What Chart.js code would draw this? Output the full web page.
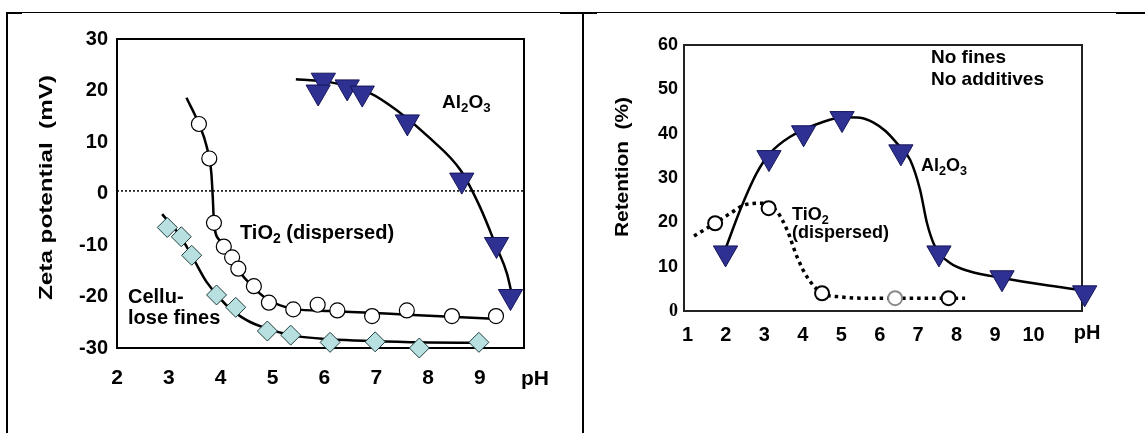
<!DOCTYPE html>
<html>
<head>
<meta charset="utf-8">
<script src="https://cdn.jsdelivr.net/npm/chart.js"></script>
<style>
  html, body { margin: 0; padding: 0; background: #fff; }
  body { width: 1145px; height: 433px; position: relative; overflow: hidden; }
  canvas { position: absolute; top: 0; }
  #zeta { left: 0; }
  #ret { left: 585px; }
  .ln { position: absolute; background: #000; }
</style>
</head>
<body>
<div class="ln" style="left:7px;top:12px;width:1138px;height:1px"></div>
<div class="ln" style="left:7px;top:12px;width:15px;height:2px"></div>
<div class="ln" style="left:560px;top:12px;width:37px;height:2px"></div>
<div class="ln" style="left:1116px;top:12px;width:29px;height:2px"></div>
<div class="ln" style="left:6px;top:12px;width:2px;height:421px"></div>
<div class="ln" style="left:582px;top:12px;width:2px;height:421px"></div>
<canvas id="zeta" width="580" height="433"></canvas>
<canvas id="ret" width="560" height="433"></canvas>
<script>
const FONT = "'Liberation Sans', Arial, sans-serif";
const SERIF = "'Liberation Serif', 'Times New Roman', serif";
const NAVY = '#2f3192';

// --- left: zeta potential vs pH ---
const zetaTicksX = [2, 3, 4, 5, 6, 7, 8, 9];
const zetaTicksY = [-30, -20, -10, 0, 10, 20, 30];
const zeroLineMV = 0.5;

const alZetaPH = [5.98, 5.88, 6.44, 6.73, 7.60, 8.65, 9.32, 9.59];
const alZetaMV = [22.0, 19.7, 20.7, 19.5, 13.9, 2.6, -9.9, -20.0];
const alZetaFitPH = [5.45, 6.11, 6.88, 7.39, 8.04, 8.62, 9.00, 9.32, 9.52, 9.64];
const alZetaFitMV = [22.2, 21.6, 19.5, 16.2, 10.7, 4.6, -2.6, -10.4, -15.5, -20.7];

const tiZetaPH = [3.58, 3.78, 3.87, 4.06, 4.22, 4.34, 4.64, 4.93, 5.40, 5.87, 6.25, 6.92, 7.59, 8.46, 9.31];
const tiZetaMV = [13.5, 6.8, -5.7, -10.3, -12.4, -14.6, -18.0, -21.2, -22.5, -21.6, -22.7, -23.8, -22.7, -23.8, -23.8];
const tiZetaFitPH = [3.34, 3.58, 3.73, 3.82, 3.85, 3.87, 3.98, 4.24, 4.56, 4.88, 5.40, 6.11, 7.71, 9.26];
const tiZetaFitMV = [18.6, 13.5, 9.1, 3.9, -1.3, -5.7, -9.1, -13.6, -17.5, -20.4, -22.4, -22.8, -23.6, -24.3];

const celZetaPH = [2.97, 3.24, 3.44, 3.92, 4.29, 4.90, 5.35, 6.11, 6.98, 7.83, 8.98];
const celZetaMV = [-6.6, -8.4, -12.0, -19.7, -22.1, -26.7, -27.5, -28.9, -28.8, -30.0, -28.9];
const celZetaFitPH = [2.87, 3.21, 3.47, 3.73, 4.11, 4.50, 4.88, 5.40, 6.11, 7.84, 9.00];
const celZetaFitMV = [-4.0, -8.1, -12.6, -17.2, -21.7, -24.6, -26.2, -27.6, -28.3, -28.9, -29.0];

// --- right: retention vs pH ---
const retTicksX = [1, 2, 3, 4, 5, 6, 7, 8, 9, 10];
const retTicksY = [0, 10, 20, 30, 40, 50, 60];

const alRetPH = [1.99, 3.12, 4.02, 5.02, 6.55, 7.54, 9.18, 11.33];
const alRet = [13.1, 34.6, 40.2, 43.4, 35.9, 13.1, 7.5, 4.1];
const alRetFitPH = [2.01, 2.37, 2.80, 3.15, 3.67, 4.54, 5.06, 5.49, 5.84, 6.15, 6.45, 6.79, 7.05, 7.23, 7.44, 7.83, 8.35, 9.22, 10.26, 11.26];
const alRetFit = [14.5, 22.8, 31.1, 35.6, 39.3, 42.7, 43.7, 43.6, 42.5, 40.6, 37.8, 34.1, 27.3, 19.8, 14.5, 10.8, 8.9, 7.4, 5.9, 4.7];

const tiRetPH = [1.72, 3.11, 4.50, 6.40, 7.79];
const tiRet = [19.8, 23.2, 4.0, 2.9, 2.9];
const tiRetFitPH = [1.17, 1.72, 2.11, 2.55, 2.98, 3.33, 3.59, 3.85, 4.11, 4.50, 4.97, 5.49, 8.22];
const tiRetFit = [16.9, 19.8, 22.0, 24.1, 24.3, 22.4, 18.3, 12.2, 7.7, 4.0, 3.2, 2.9, 2.9];

const pts = (xs, ys) => xs.map((x, i) => ({ x, y: ys[i] }));

function drawChem(ctx, parts, x, y, size) {
  ctx.textAlign = 'left';
  ctx.textBaseline = 'middle';
  let cx = x;
  for (const [t, sub] of parts) {
    const s = sub ? size * 0.7 : size;
    ctx.font = `bold ${s}px ${FONT}`;
    ctx.fillText(t, cx, y + (sub ? size * 0.3 : 0));
    cx += ctx.measureText(t).width;
  }
}

function vTitle(ctx, text, cx, cy, size, len) {
  ctx.save();
  ctx.font = `bold ${size}px ${FONT}`;
  const w = ctx.measureText(text).width;
  ctx.translate(cx, cy);
  ctx.rotate(-Math.PI / 2);
  ctx.scale(len / w, 1);
  ctx.textAlign = 'center';
  ctx.textBaseline = 'middle';
  ctx.fillStyle = '#000';
  ctx.fillText(text, 0, 0);
  ctx.restore();
}

function text(ctx, t, x, y, size, align) {
  ctx.font = `bold ${size}px ${FONT}`;
  ctx.textAlign = align || 'left';
  ctx.textBaseline = 'middle';
  ctx.fillText(t, x, y);
}

function baseOptions(o) {
  return {
    responsive: false,
    animation: false,
    devicePixelRatio: 1,
    events: [],
    layout: { padding: { top: o.top, right: o.right, left: 0, bottom: 0 } },
    plugins: { legend: { display: false }, tooltip: { enabled: false } },
    scales: {
      x: {
        type: 'linear', min: o.xMin, max: o.xMax,
        grid: { display: false, drawTicks: false }, border: { display: false },
        afterBuildTicks: s => { s.ticks = o.xTicks.map(v => ({ value: v })); },
        afterFit: s => { s.height = o.xH; },
        ticks: { padding: o.xPad, autoSkip: false, maxRotation: 0, color: '#000',
                 font: { family: FONT, size: o.xSize, weight: 'bold' } }
      },
      y: {
        type: 'linear', min: o.yMin, max: o.yMax,
        grid: { display: false, drawTicks: false }, border: { display: false },
        afterBuildTicks: s => { s.ticks = o.yTicks.map(v => ({ value: v })); },
        afterFit: s => { s.width = o.yW; },
        ticks: { padding: o.yPad, autoSkip: false, color: '#000',
                 font: o.yFont || { family: FONT, size: o.ySize, weight: 'bold' } }
      }
    }
  };
}

const zetaDecor = {
  id: 'zetaDecor',
  beforeDatasetsDraw(chart) {
    const { ctx, chartArea: a, scales: { y } } = chart;
    ctx.save();
    const y0 = y.getPixelForValue(zeroLineMV);
    ctx.strokeStyle = '#000';
    ctx.lineWidth = 1.5;
    ctx.setLineDash([2, 2]);
    ctx.beginPath(); ctx.moveTo(a.left, y0); ctx.lineTo(a.right, y0); ctx.stroke();
    ctx.setLineDash([]);
    ctx.lineWidth = 2;
    ctx.strokeRect(a.left, a.top, a.right - a.left, a.bottom - a.top);
    ctx.restore();
  },
  afterDatasetsDraw(chart) {
    const { ctx, chartArea: a } = chart;
    ctx.save();
    ctx.fillStyle = '#000';
    drawChem(ctx, [['Al', 0], ['2', 1], ['O', 0], ['3', 1]], 442, 103, 19);
    drawChem(ctx, [['TiO', 0], ['2', 1], [' (dispersed)', 0]], 240, 233, 20);
    text(ctx, 'Cellu-', 128, 297, 20);
    text(ctx, 'lose fines', 128, 318, 20);
    text(ctx, 'pH', a.right + 11, a.bottom + 31, 21, 'center');
    vTitle(ctx, 'Zeta potential  (mV)', 47, 187.5, 18, 225);
    ctx.restore();
  }
};

const retDecor = {
  id: 'retDecor',
  beforeDatasetsDraw(chart) {
    const { ctx, chartArea: a } = chart;
    ctx.save();
    ctx.strokeStyle = '#222';
    ctx.lineWidth = 2;
    ctx.strokeRect(a.left, a.top, a.right - a.left, a.bottom - a.top);
    ctx.restore();
  },
  afterDatasetsDraw(chart) {
    const { ctx, chartArea: a } = chart;
    ctx.save();
    ctx.fillStyle = '#000';
    text(ctx, 'No fines', 346, 58, 19);
    text(ctx, 'No additives', 346, 80, 19);
    drawChem(ctx, [['Al', 0], ['2', 1], ['O', 0], ['3', 1]], 336, 166, 18);
    drawChem(ctx, [['TiO', 0], ['2', 1]], 207, 215, 18);
    text(ctx, '(dispersed)', 207, 233, 18);
    text(ctx, 'pH', a.right + 5, a.bottom + 22, 20, 'center');
    vTitle(ctx, 'Retention  (%)', 38, 167, 19, 140);
    ctx.restore();
  }
};

const marker = (data, style, extra) => Object.assign({
  data, showLine: false, clip: false,
  pointStyle: style, pointBorderColor: '#000', pointBorderWidth: 1
}, extra);
const curve = (data, extra) => Object.assign({
  data, showLine: true, clip: false, pointRadius: 0,
  borderColor: '#000', borderWidth: 2.5, cubicInterpolationMode: 'monotone', fill: false
}, extra);

new Chart(document.getElementById('zeta'), {
  type: 'scatter',
  data: {
    datasets: [
      marker(pts(alZetaPH, alZetaMV), 'triangle', { pointRotation: 180, pointRadius: 14, pointBackgroundColor: NAVY, pointBorderColor: '#15155a' }),
      marker(pts(tiZetaPH, tiZetaMV), 'circle', { pointRadius: 7.5, pointBackgroundColor: '#fff', pointBorderWidth: 1.2 }),
      marker(pts(celZetaPH, celZetaMV), 'rectRot', { pointRadius: 10, pointBackgroundColor: '#b9e0e1', pointBorderColor: '#1e3c3c' }),
      curve(pts(alZetaFitPH, alZetaFitMV)),
      curve(pts(tiZetaFitPH, tiZetaFitMV)),
      curve(pts(celZetaFitPH, celZetaFitMV))
    ]
  },
  options: baseOptions({
    top: 39, right: 56, xH: 85, yW: 117,
    xMin: 2, xMax: 9.85, xTicks: zetaTicksX, xPad: 18, xSize: 21,
    yMin: -30, yMax: 30, yTicks: zetaTicksY, yPad: 9, ySize: 20
  }),
  plugins: [zetaDecor]
});

new Chart(document.getElementById('ret'), {
  type: 'scatter',
  data: {
    datasets: [
      marker(pts(alRetPH, alRet), 'triangle', { pointRotation: 180, pointRadius: 14, pointBackgroundColor: NAVY, pointBorderColor: '#15155a' }),
      marker(pts(tiRetPH, tiRet), 'circle', { pointRadius: 7, pointBackgroundColor: '#fff', pointBorderWidth: 2,
        pointBorderColor: ['#000', '#000', '#000', '#8a8a8a', '#000'] }),
      curve(pts(alRetFitPH, alRetFit)),
      curve(pts(tiRetFitPH, tiRetFit), { borderWidth: 3.5, borderDash: [3.5, 4] })
    ]
  },
  options: baseOptions({
    top: 45, right: 63, xH: 122, yW: 99,
    xMin: 0.91, xMax: 11.26, xTicks: retTicksX, xPad: 12, xSize: 20,
    yMin: 0, yMax: 60, yTicks: retTicksY, yPad: 6,
    yFont: c => (c.tick && c.tick.value === 0)
      ? { family: SERIF, size: 18, weight: 'bold' }
      : { family: FONT, size: 18, weight: 'bold' }
  }),
  plugins: [retDecor]
});
</script>
</body>
</html>
